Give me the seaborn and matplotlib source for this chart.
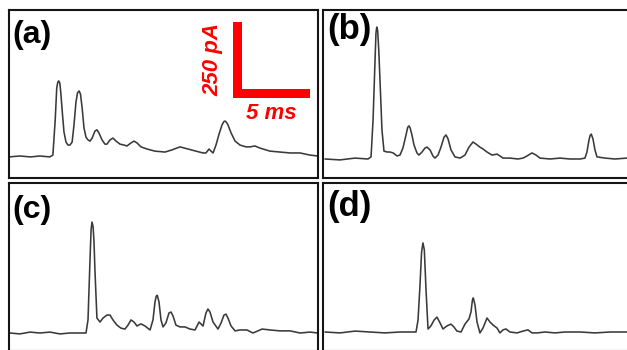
import matplotlib
matplotlib.use("Agg")
import matplotlib.pyplot as plt
from matplotlib.patches import Rectangle
import pandas as pd
import seaborn as sns

sns.set_style("white")
plt.rcParams["font.family"] = ["Liberation Sans", "DejaVu Sans"]

# Current traces: (time in ms, current in pA above baseline)
trace_a = [
    (0.0, -3), (0.7, 0), (1.4, -3), (2.0, 0), (2.65, -3), (2.85, 3), (3.0, 118),
    (3.1, 224), (3.17, 243), (3.23, 247), (3.3, 240), (3.37, 205), (3.45, 151),
    (3.57, 79), (3.7, 46), (3.83, 36), (3.96, 36), (4.1, 46), (4.22, 102),
    (4.35, 178), (4.45, 208), (4.55, 214), (4.64, 204), (4.75, 158), (4.87, 92),
    (5.0, 62), (5.13, 53), (5.26, 49), (5.4, 59), (5.58, 82), (5.71, 86),
    (5.84, 76), (6.04, 53), (6.23, 39), (6.36, 39), (6.56, 53), (6.75, 59),
    (6.95, 49), (7.21, 39), (7.47, 36), (7.66, 33), (7.92, 43), (8.12, 49),
    (8.31, 43), (8.57, 30), (8.96, 23), (9.48, 16), (10.13, 13), (10.58, 20),
    (11.1, 30), (11.62, 23), (12.14, 16), (12.6, 10), (12.79, 10), (12.99, 23),
    (13.12, 16), (13.25, 10), (13.44, 36), (13.64, 72), (13.83, 102),
    (13.95, 113), (14.03, 115), (14.12, 111), (14.22, 102), (14.42, 76),
    (14.68, 49), (15.0, 36), (15.39, 30), (15.65, 30), (15.97, 33), (16.3, 26),
    (16.95, 16), (17.6, 13), (18.25, 10), (18.9, 10), (19.55, 3), (20.06, 0),
]

trace_b = [
    (0.13, 0), (1.10, -3), (2.08, 3), (2.92, 0), (3.12, 7), (3.25, 128),
    (3.38, 326), (3.44, 415), (3.49, 434), (3.55, 422), (3.62, 360), (3.70, 260),
    (3.83, 95), (3.96, 26), (4.16, 23), (4.35, 23), (4.55, 20), (4.81, 10),
    (5.0, 13), (5.19, 36), (5.39, 79), (5.50, 104), (5.58, 109), (5.66, 102),
    (5.78, 78), (5.91, 46), (6.10, 20), (6.23, 13), (6.43, 23), (6.62, 36),
    (6.75, 39), (6.95, 30), (7.14, 10), (7.27, 3), (7.47, 13), (7.66, 39),
    (7.86, 72), (7.99, 79), (8.12, 66), (8.31, 30), (8.57, 7), (8.90, 3),
    (9.22, 13), (9.48, 39), (9.74, 56), (9.94, 49), (10.19, 39), (10.39, 33),
    (10.65, 23), (10.97, 13), (11.30, 16), (11.49, 10), (11.69, 3), (12.14, 3),
    (12.66, 0), (12.99, 3), (13.25, 10), (13.57, 20), (13.83, 13), (14.09, 3),
    (14.74, 0), (15.39, 3), (16.04, 0), (16.69, 0), (17.01, 3), (17.14, 23),
    (17.27, 62), (17.35, 78), (17.42, 82), (17.53, 66), (17.66, 30), (17.79, 7),
    (18.31, 3), (18.96, 0), (19.74, 3), (20.3, 3),
]

trace_c = [
    (0.06, 0), (0.71, -3), (1.36, 3), (2.01, 0), (2.66, 3), (3.31, -3), (3.96, 0),
    (4.61, 0), (5.0, 0), (5.13, 43), (5.26, 240), (5.33, 340), (5.39, 365),
    (5.46, 350), (5.52, 300), (5.58, 207), (5.71, 49), (5.91, 36), (6.10, 49),
    (6.36, 59), (6.56, 59), (6.75, 43), (7.01, 26), (7.27, 16), (7.53, 13),
    (7.73, 26), (7.92, 43), (8.12, 36), (8.31, 23), (8.57, 30), (8.83, 23),
    (9.16, 10), (9.35, 43), (9.48, 102), (9.56, 121), (9.63, 124), (9.74, 102),
    (9.87, 43), (10.0, 20), (10.19, 33), (10.39, 66), (10.52, 69), (10.65, 56),
    (10.84, 26), (11.10, 20), (11.43, 20), (11.75, 13), (12.08, 10), (12.34, 36),
    (12.60, 23), (12.79, 66), (12.92, 79), (13.05, 69), (13.25, 36), (13.57, 13),
    (13.77, 33), (13.96, 59), (14.09, 62), (14.22, 49), (14.42, 23), (14.68, 7),
    (15.0, 10), (15.45, 10), (15.84, 0), (16.17, 7), (16.43, 13), (16.95, 10),
    (17.60, 7), (18.25, 7), (18.90, 0), (19.55, 3), (20.06, 0),
]

trace_d = [
    (0.13, 0), (1.10, -3), (2.08, 3), (3.05, 0), (4.03, -3), (5.0, 0), (5.65, 0),
    (6.04, 0), (6.17, 39), (6.30, 155), (6.40, 262), (6.49, 293), (6.58, 270),
    (6.69, 138), (6.82, 10), (7.01, 20), (7.21, 39), (7.40, 49), (7.60, 30),
    (7.79, 10), (8.05, 20), (8.31, 26), (8.51, 16), (8.70, 3), (8.96, 0),
    (9.22, 26), (9.48, 43), (9.61, 66), (9.70, 104), (9.76, 112), (9.87, 89),
    (10.0, 33), (10.19, -3), (10.39, 13), (10.65, 46), (10.84, 33), (11.04, 23),
    (11.30, 13), (11.49, -3), (11.69, 7), (11.88, 10), (12.14, 0), (12.60, -3),
    (12.99, 3), (13.31, 7), (13.57, -3), (13.90, -3), (14.42, 0), (15.06, -3),
    (15.71, 0), (16.69, 0), (17.66, -3), (18.64, 0), (19.74, 0), (20.3, 0),
]

panel_labels = ["(a)", "(b)", "(c)", "(d)"]
traces = [trace_a, trace_b, trace_c, trace_d]

# Scale bar
scale_ms = 5
scale_pA = 250
scale_bar_text = ["250 pA", "5 ms"]

# Figure layout (pixel geometry of each framed panel)
W, H = 627, 350
PX_PER_MS = 15.4
PX_PER_PA = 250 / 76.0
# left, top, width, height, baseline row (px), label size, label offset
panel_geom = [
    (9, 10, 309, 168, 156, 23, (3, -10)),
    (323, 10, 309, 168, 159, 25, (4, -3)),
    (9, 183, 309, 168, 333, 23, (3, -12)),
    (323, 183, 309, 168, 332, 25, (4, -7)),
]

fig = plt.figure(figsize=(W / 100, H / 100), dpi=100)
fig.patch.set_facecolor("white")

axes = []
for (left, top, w, h, base, lsize, loff), trace, label in zip(panel_geom, traces, panel_labels):
    ax = fig.add_axes([left / W, 1 - (top + h) / H, w / W, h / H])
    df = pd.DataFrame(trace, columns=["time_ms", "current_pA"])
    sns.lineplot(data=df, x="time_ms", y="current_pA", ax=ax, color="#3a3a3a",
                 lw=1.15, sort=False, estimator=None)
    ax.set_xlim(0, w / PX_PER_MS)
    ax.set_ylim(-(top + h - base) * PX_PER_PA, (base - top) * PX_PER_PA)
    ax.set_xticks([])
    ax.set_yticks([])
    ax.set_xlabel("")
    ax.set_ylabel("")
    for sp in ax.spines.values():
        sp.set_visible(True)
        sp.set_linewidth(1.5)
        sp.set_color("#151515")
    ax.annotate(label, xy=(0, 1), xycoords="axes fraction", xytext=loff,
                textcoords="offset pixels", ha="left", va="top",
                fontsize=lsize, fontweight="bold", color="black")
    axes.append(ax)

# L-shaped scale bar in panel (a)
ax = axes[0]
t0, i0 = 14.55, 191
thick_ms = 9 / PX_PER_MS
thick_pA = 9 * PX_PER_PA
red = "#ff0000"
ax.add_patch(Rectangle((t0, i0), thick_ms, scale_pA, color=red, lw=0))
ax.add_patch(Rectangle((t0, i0), scale_ms, thick_pA, color=red, lw=0))
ax.text(t0 - 1.3, i0 + scale_pA / 2, scale_bar_text[0], rotation=90,
        ha="center", va="center", fontsize=16, fontweight="bold",
        fontstyle="italic", color=red)
ax.text(t0 + scale_ms / 2, i0 - 52, scale_bar_text[1], ha="center", va="center",
        fontsize=16, fontweight="bold", fontstyle="italic", color=red)

fig.savefig("out.png", dpi=100, facecolor="white")
